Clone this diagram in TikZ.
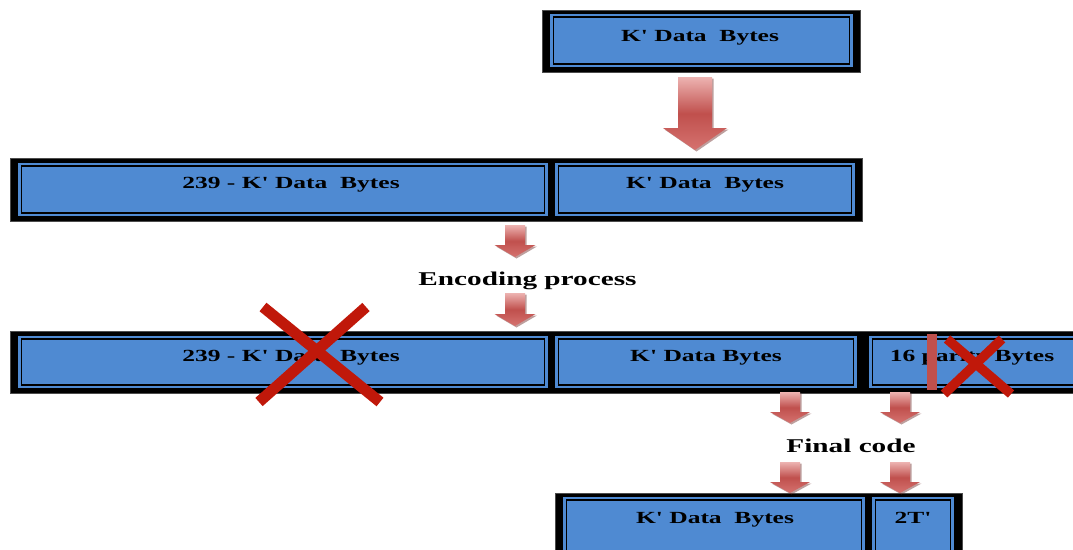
\documentclass[tikz,border=0pt]{standalone}
\usepackage{graphicx}
\usepackage{fontspec}
\newfontfamily\lblfont{Liberation Serif}
\usetikzlibrary{fit}

\definecolor{cellblue}{HTML}{4F8AD2}
\definecolor{arrowred}{HTML}{C0504D}
\definecolor{arrowlight}{HTML}{EDB3B1}
\definecolor{arrowlow}{HTML}{D5726F}
\definecolor{arrowshadow}{HTML}{6E2B29}
\definecolor{crossred}{HTML}{C0180A}

% text set wide, as in the drawing
\newcommand\wide[1]{\scalebox{1.5}[1]{#1}}

% block arrow pointing down: name, x, y (top centre), shaft half width,
% head half width, head start, length
\newcommand\blockarrow[7]{%
  \coordinate (#1) at (#2,#3);
  \begin{scope}[shift={(#1)}]
    \fill[arrowshadow, opacity=0.45]
      (-#4+1.5,1.5) -- (#4+1.5,1.5) -- (#4+1.5,#6+1.5) -- (#5+1.5,#6+1.5)
      -- (1.5,#7+1.5) -- (-#5+1.5,#6+1.5) -- (-#4+1.5,#6+1.5) -- cycle;
    \shade[top color=arrowlight, bottom color=arrowlow, middle color=arrowred]
      (-#4,0) -- (#4,0) -- (#4,#6) -- (#5,#6) -- (0,#7) -- (-#5,#6)
      -- (-#4,#6) -- cycle;
  \end{scope}}

\tikzset{
  rowframe/.style={fill=black, draw=black!70, line width=0.6pt, inner sep=0pt},
  cellbox/.style={fill=cellblue, inner sep=0pt,
    path picture={\draw[black, line width=1.1pt]
      ([shift={(3.5pt,3pt)}]path picture bounding box.south west) rectangle
      ([shift={(-3.5pt,-3pt)}]path picture bounding box.north east);}},
  boxtext/.style={anchor=base, inner sep=0pt,
    font=\lblfont\bfseries\fontsize{17}{20}\selectfont},
  steptext/.style={anchor=base, inner sep=0pt,
    font=\lblfont\bfseries\fontsize{19.5}{23}\selectfont},
  cross/.style={crossred, line width=11pt, line cap=butt},
}

\begin{document}
\begin{tikzpicture}[x=1pt, y=-1pt]
\useasboundingbox (0,0) rectangle (1073,549);

% incoming data block
\node[rowframe, fit={(542,10) (860,72)}] (row0) {};
\node[cellbox, fit={(550,14) (853,67)}] (c0) {};
\node[boxtext] (t0) at (700,41) {\wide{K' Data\ \ Bytes}};

% padded message
\node[rowframe, fit={(10,158) (862,221)}] (row2) {};
\node[cellbox, fit={(18,163) (548,216)}] (c2a) {};
\node[cellbox, fit={(555,163) (855,216)}] (c2b) {};
\node[boxtext] (t2a) at (291,188) {\wide{239 - K' Data\ \ Bytes}};
\node[boxtext] (t2b) at (705,188) {\wide{K' Data\ \ Bytes}};

% encoded codeword
\node[rowframe, fit={(10,331) (1085,393)}] (row3) {};
\node[cellbox, fit={(18,336) (548,388)}] (c3a) {};
\node[cellbox, fit={(555,336) (857,388)}] (c3b) {};
\node[cellbox, fit={(869,336) (1080,388)}] (c3c) {};
\node[boxtext] (t3a) at (291,361) {\wide{239 - K' Data\ \ Bytes}};
\node[boxtext] (t3b) at (706,361) {\wide{K' Data Bytes}};
\node[boxtext] (t3c) at (972,361) {\wide{16 parity Bytes}};

% shortened code
\node[rowframe, fit={(555,493) (962,565)}] (row4) {};
\node[cellbox, fit={(563,497) (865,560)}] (c4a) {};
\node[cellbox, fit={(872,497) (954,560)}] (c4b) {};
\node[boxtext] (t4a) at (715,523) {\wide{K' Data\ \ Bytes}};
\node[boxtext] (t4b) at (913,523) {\wide{2T'}};

% step labels
\node[steptext] (enc) at (527.5,285) {\wide{Encoding process}};
\node[steptext] (fin) at (851,452) {\wide{Final code}};

% removed parts
\coordinate (x1a) at (263,307);
\coordinate (x1b) at (380,402);
\coordinate (x1c) at (366,307);
\coordinate (x1d) at (259,402);
\draw[cross] (x1a) -- (x1b);
\draw[cross] (x1c) -- (x1d);

\fill[arrowred] (927,334) rectangle (937,390);
\coordinate (x2a) at (947,339);
\coordinate (x2b) at (1011,394);
\coordinate (x2c) at (1002,339);
\coordinate (x2d) at (944,394);
\draw[cross, line width=9.5pt] (x2a) -- (x2b);
\draw[cross, line width=9.5pt] (x2c) -- (x2d);

% flow arrows
\blockarrow{a0}{695}{77}{17}{32}{51}{73}
\blockarrow{a1}{515}{225}{10}{20.5}{20}{32}
\blockarrow{a2}{515}{293}{10}{20.5}{21}{33}
\blockarrow{a3}{790}{392}{10}{20}{20}{31}
\blockarrow{a4}{900}{392}{10}{20}{20}{31}
\blockarrow{a5}{790}{462}{10}{20}{20}{31}
\blockarrow{a6}{900}{462}{10}{20}{20}{31}
\end{tikzpicture}
\end{document}
